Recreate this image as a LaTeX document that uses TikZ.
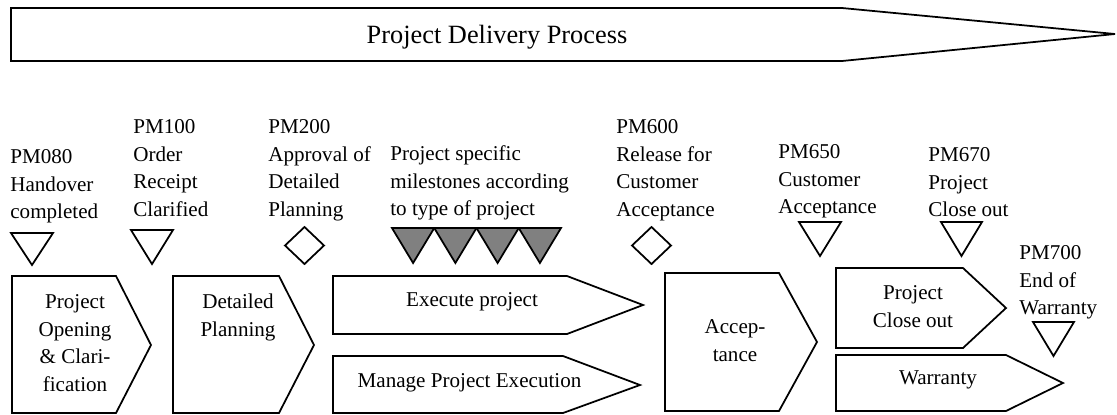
\documentclass[tikz,border=0pt]{standalone}
\usepackage{fontspec}
\setmainfont{Liberation Serif}
\usepackage{tikz}
\definecolor{mgray}{rgb}{0.5,0.5,0.5}
\tikzset{
    lbl/.style={anchor=north west, align=left, inner sep=0pt, font=\fontsize{12}{15.77}\selectfont},
    boxtxt/.style={anchor=north, align=center, inner sep=0pt, font=\fontsize{12}{15.77}\selectfont},
    onetxt/.style={anchor=base, inner sep=0pt, font=\fontsize{12}{15.77}\selectfont},
    shp/.style={line width=1pt, line join=miter}
}

\begin{document}
\begin{tikzpicture}[x=0.02cm, y=-0.02cm]
        \useasboundingbox (0, 0) rectangle (1117, 414);

        % overall process arrow
        \draw[shp] (11, 8) -- (842, 8) -- (1115, 34) -- (842, 61) -- (11, 61) -- cycle;
        \draw (497, 43) node(title)[anchor=base, inner sep=0pt, font=\fontsize{15}{18}\selectfont]{Project Delivery Process};

        % milestone texts
        \draw (10, 143.6) node(pm080)[lbl]{\strut PM080\\Handover\\completed};
        \draw (133, 113.6) node(pm100)[lbl]{\strut PM100\\Order\\Receipt\\Clarified};
        \draw (268, 113.6) node(pm200)[lbl]{\strut PM200\\Approval of\\Detailed\\Planning};
        \draw (390, 140.6) node(spec)[lbl]{\strut Project specific\\milestones according\\to type of project};
        \draw (616, 113.6) node(pm600)[lbl]{\strut PM600\\Release for\\Customer\\Acceptance};
        \draw (778, 138.6) node(pm650)[lbl]{\strut PM650\\Customer\\Acceptance};
        \draw (928, 141.6) node(pm670)[lbl]{\strut PM670\\Project\\Close out};
        \draw (1019, 239.6) node(pm700)[lbl]{\strut PM700\\End of\\Warranty};

        % milestone symbols
        \draw[shp] (11, 233) -- (53, 233) -- (32, 265) -- cycle;
        \draw[shp] (131, 230) -- (173, 230) -- (152, 264) -- cycle;
        \draw[shp] (285, 245.5) -- (304.5, 227) -- (324, 245.5) -- (304.5, 264) -- cycle;
        \draw[shp, fill=mgray] (392, 228) -- (434.25, 228) -- (413.1, 263) -- cycle;
        \draw[shp, fill=mgray] (434.25, 228) -- (476.5, 228) -- (455.4, 263) -- cycle;
        \draw[shp, fill=mgray] (476.5, 228) -- (518.75, 228) -- (497.6, 263) -- cycle;
        \draw[shp, fill=mgray] (518.75, 228) -- (561, 228) -- (539.9, 263) -- cycle;
        \draw[shp] (632, 245.5) -- (651.5, 227) -- (671, 245.5) -- (651.5, 264) -- cycle;
        \draw[shp] (799, 222) -- (841, 222) -- (820, 256) -- cycle;
        \draw[shp] (941, 222) -- (982, 222) -- (961.5, 256) -- cycle;
        \draw[shp] (1033, 322) -- (1074, 322) -- (1053.5, 356) -- cycle;

        % phases
        \draw[shp] (12, 276) -- (116, 276) -- (151, 345) -- (116, 413) -- (12, 413) -- cycle;
        \draw (75, 288.6) node(open)[boxtxt]{\strut Project\\Opening\\\& Clari-\\fication};
        \draw[shp] (173, 276) -- (279, 276) -- (314, 345) -- (279, 413) -- (173, 413) -- cycle;
        \draw (238, 288.6) node(plan)[boxtxt]{\strut Detailed\\Planning};
        \draw[shp] (333, 276) -- (567, 276) -- (643, 305) -- (567, 334) -- (333, 334) -- cycle;
        \draw (472, 306) node(exec)[onetxt]{Execute project};
        \draw[shp] (333, 356) -- (563, 356) -- (640, 385) -- (563, 413) -- (333, 413) -- cycle;
        \draw (469.5, 387) node(manage)[onetxt]{Manage Project Execution};
        \draw[shp] (665, 273) -- (779, 273) -- (817, 342) -- (779, 411) -- (665, 411) -- cycle;
        \draw (735, 313.6) node(accept)[boxtxt]{\strut Accep-\\tance};
        \draw[shp] (836, 268) -- (963, 268) -- (1006, 308) -- (963, 348) -- (836, 348) -- cycle;
        \draw (913, 279.6) node(close)[boxtxt]{\strut Project\\Close out};
        \draw[shp] (836, 355) -- (1006, 355) -- (1063, 383) -- (1006, 411) -- (836, 411) -- cycle;
        \draw (938, 384) node(warr)[onetxt]{Warranty};
    \end{tikzpicture}
\end{document}
